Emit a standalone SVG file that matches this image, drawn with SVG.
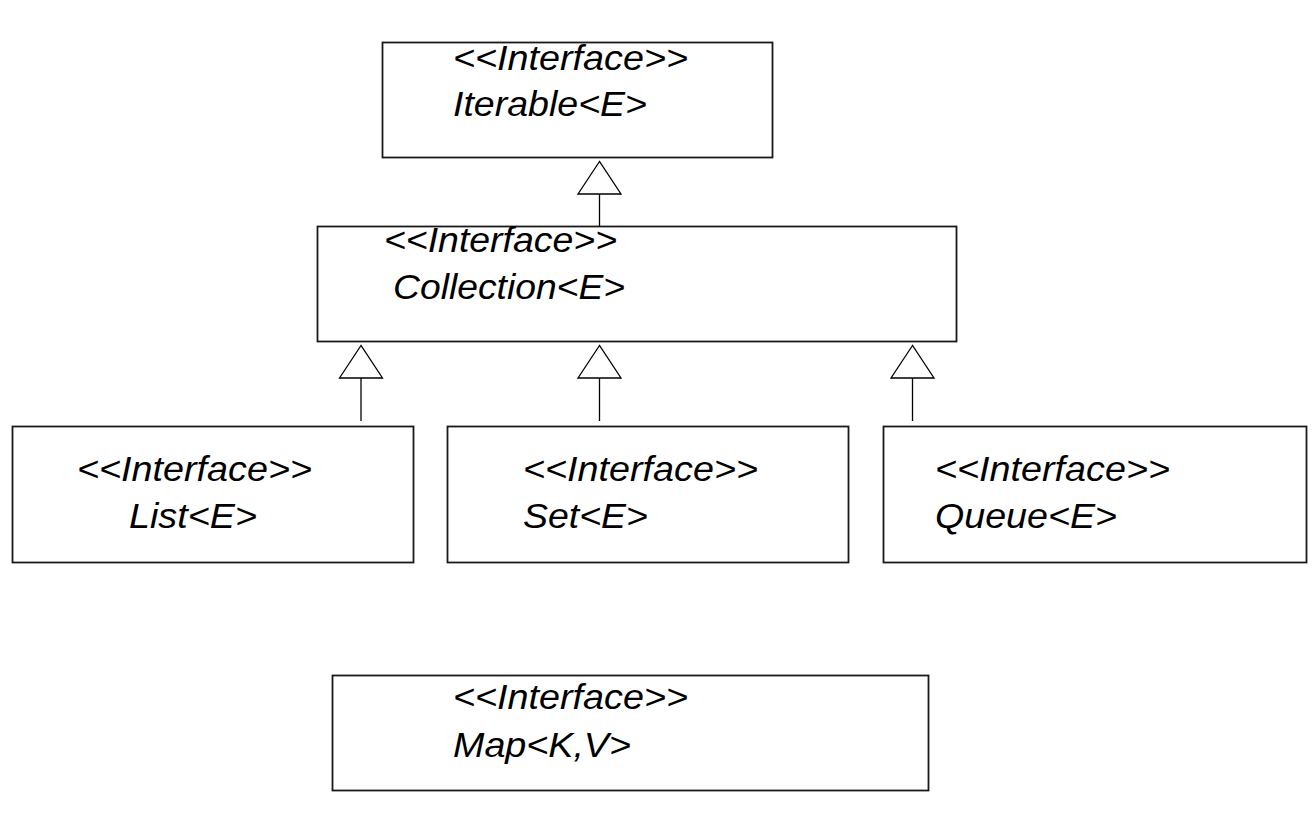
<svg xmlns="http://www.w3.org/2000/svg" width="1316" height="822" viewBox="0 0 1316 822">
<style>
.box{fill:#fff;stroke:#1a1a1a;stroke-width:1.8}
.t{font-family:"Liberation Sans",Arial,sans-serif;font-style:italic;font-size:35px;fill:#000}
.ln{stroke:#000;stroke-width:1.3;fill:none}
.tri{fill:#fff;stroke:#000;stroke-width:1.3}
</style>
<rect width="1316" height="822" fill="#fff"/>
<g id="connectors">
<line class="ln" x1="599.5" y1="194" x2="599.5" y2="226"/>
<polygon class="tri" points="599.5,161.5 578,194 621,194"/>
<line class="ln" x1="361" y1="378" x2="361" y2="421"/>
<polygon class="tri" points="361,345.5 339.5,378 382.5,378"/>
<line class="ln" x1="599.5" y1="378" x2="599.5" y2="421"/>
<polygon class="tri" points="599.5,345.5 578,378 621,378"/>
<line class="ln" x1="912.5" y1="378" x2="912.5" y2="421"/>
<polygon class="tri" points="912.5,345.5 891,378 934,378"/>
</g>
<g id="iterable">
<rect class="box" x="382.5" y="42.5" width="390" height="115"/>
<text class="t" x="453" y="70" textLength="235" lengthAdjust="spacingAndGlyphs">&lt;&lt;Interface&gt;&gt;</text>
<text class="t" x="453" y="116" textLength="194" lengthAdjust="spacingAndGlyphs">Iterable&lt;E&gt;</text>
</g>
<g id="collection">
<rect class="box" x="317.5" y="226.5" width="639" height="115"/>
<text class="t" x="384" y="252" textLength="233" lengthAdjust="spacingAndGlyphs">&lt;&lt;Interface&gt;&gt;</text>
<text class="t" x="393" y="299" textLength="232" lengthAdjust="spacingAndGlyphs">Collection&lt;E&gt;</text>
</g>
<g id="list">
<rect class="box" x="12.5" y="426.5" width="401" height="136"/>
<text class="t" x="77" y="481" textLength="235" lengthAdjust="spacingAndGlyphs">&lt;&lt;Interface&gt;&gt;</text>
<text class="t" x="129" y="528" textLength="128" lengthAdjust="spacingAndGlyphs">List&lt;E&gt;</text>
</g>
<g id="set">
<rect class="box" x="447.5" y="426.5" width="401" height="136"/>
<text class="t" x="523" y="481" textLength="235" lengthAdjust="spacingAndGlyphs">&lt;&lt;Interface&gt;&gt;</text>
<text class="t" x="523" y="528" textLength="125" lengthAdjust="spacingAndGlyphs">Set&lt;E&gt;</text>
</g>
<g id="queue">
<rect class="box" x="883.5" y="426.5" width="423" height="136"/>
<text class="t" x="935" y="481" textLength="235" lengthAdjust="spacingAndGlyphs">&lt;&lt;Interface&gt;&gt;</text>
<text class="t" x="935" y="528" textLength="182" lengthAdjust="spacingAndGlyphs">Queue&lt;E&gt;</text>
</g>
<g id="map">
<rect class="box" x="332.5" y="675.5" width="596" height="115"/>
<text class="t" x="453" y="709" textLength="235" lengthAdjust="spacingAndGlyphs">&lt;&lt;Interface&gt;&gt;</text>
<text class="t" x="453" y="757" textLength="178" lengthAdjust="spacingAndGlyphs">Map&lt;K,V&gt;</text>
</g>
</svg>
